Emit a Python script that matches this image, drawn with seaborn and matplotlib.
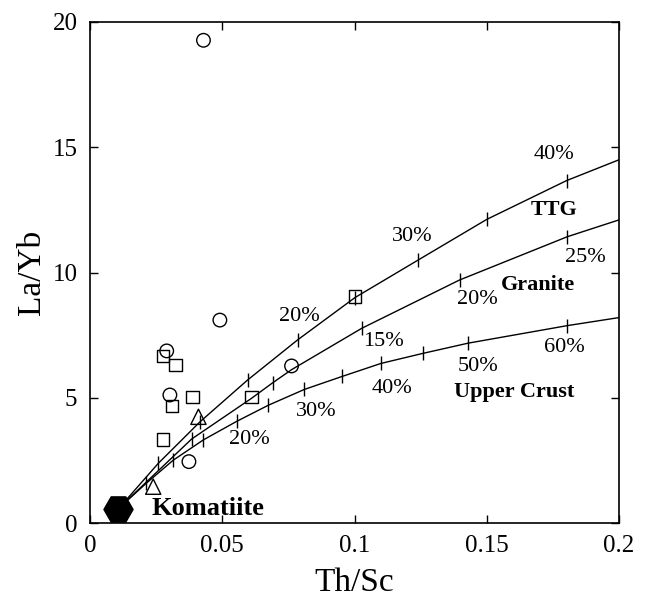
import numpy as np
import pandas as pd
import matplotlib
matplotlib.use("Agg")
import matplotlib.pyplot as plt
import seaborn as sns

# mixing curves komatiite -> end members
ttg_x = [0.011, 0.0258, 0.0416, 0.0596, 0.0785, 0.1002, 0.1241, 0.150, 0.1802, 0.200]
ttg_y = [0.60, 2.38, 4.04, 5.71, 7.31, 9.00, 10.50, 12.12, 13.67, 14.50]
gra_x = [0.011, 0.0384, 0.0611, 0.0691, 0.0762, 0.1027, 0.1397, 0.1805, 0.200]
gra_y = [0.60, 3.35, 4.98, 5.60, 6.12, 7.77, 9.70, 11.43, 12.10]
ucc_x = [0.011, 0.0212, 0.0315, 0.0429, 0.0555, 0.0674, 0.081, 0.0953, 0.110, 0.1258, 0.143, 0.1805, 0.200]
ucc_y = [0.60, 1.58, 2.51, 3.32, 4.06, 4.70, 5.33, 5.85, 6.37, 6.77, 7.18, 7.88, 8.20]

# tick marks on the curves (5 % steps)
ttg_tick_x = [0.0258, 0.0416, 0.0596, 0.0785, 0.1002, 0.1241, 0.150, 0.1802]
ttg_tick_y = [2.38, 4.04, 5.71, 7.31, 9.00, 10.50, 12.12, 13.67]
gra_tick_x = [0.0384, 0.0691, 0.1027, 0.1397, 0.1805]
gra_tick_y = [3.35, 5.60, 7.77, 9.70, 11.43]
ucc_tick_x = [0.0212, 0.0315, 0.0429, 0.0555, 0.0674, 0.081, 0.0953, 0.110, 0.1258, 0.143, 0.1805]
ucc_tick_y = [1.58, 2.51, 3.32, 4.06, 4.70, 5.33, 5.85, 6.37, 6.77, 7.18, 7.88]

# percentage labels
pct_text = ["20%", "30%", "40%", "15%", "20%", "25%", "20%", "30%", "40%", "50%", "60%"]
pct_x = [0.0790, 0.1220, 0.1754, 0.1110, 0.1466, 0.1871, 0.0603, 0.0854, 0.1141, 0.1466, 0.1793]
pct_y = [8.23, 11.45, 14.70, 7.24, 8.91, 10.59, 3.35, 4.45, 5.36, 6.25, 7.00]

names = ["TTG", "Granite", "Upper Crust"]
name_x = [0.1754, 0.1695, 0.1604]
name_y = [12.49, 9.52, 5.21]

# samples
circ_x = [0.0429, 0.0491, 0.0290, 0.0302, 0.0374, 0.0762]
circ_y = [19.27, 8.10, 6.87, 5.11, 2.45, 6.27]
sq_x = [0.0277, 0.0324, 0.0388, 0.0311, 0.0277, 0.0611, 0.1002]
sq_y = [6.67, 6.31, 5.02, 4.67, 3.34, 5.02, 9.04]
tri_x = [0.0410, 0.0239]
tri_y = [4.24, 1.45]

kom_x = [0.0105]
kom_y = [0.55]

xticks = [0, 0.05, 0.1, 0.15, 0.2]
xtick_labels = ["0", "0.05", "0.1", "0.15", "0.2"]
yticks = [0, 5, 10, 15, 20]

sns.set_style("ticks")
plt.rcParams['font.family'] = ['Liberation Serif', 'DejaVu Serif']
plt.rcParams['text.color'] = 'black'
plt.rcParams['axes.labelcolor'] = 'black'

fig = plt.figure(figsize=(6.53, 5.99), dpi=100)
ax = fig.add_axes([90/653, 1-523/599, 529/653, 501/599])

for cx, cy in [(ttg_x, ttg_y), (gra_x, gra_y), (ucc_x, ucc_y)]:
    sns.lineplot(x=cx, y=cy, sort=False, estimator=None, color="black", lw=1, ax=ax)

for tx, ty in [(ttg_tick_x, ttg_tick_y), (gra_tick_x, gra_tick_y), (ucc_tick_x, ucc_tick_y)]:
    sns.scatterplot(x=tx, y=ty, marker="|", s=90, color="black", linewidth=1, ax=ax, zorder=3)

sns.scatterplot(x=circ_x, y=circ_y, marker="o", s=95, color="black", facecolor="none",
                edgecolor="black", linewidth=1, ax=ax, zorder=4)
sns.scatterplot(x=sq_x, y=sq_y, marker="s", s=80, color="black", facecolor="none",
                edgecolor="black", linewidth=1, ax=ax, zorder=4)
sns.scatterplot(x=tri_x, y=tri_y, marker="^", s=120, color="black", facecolor="none",
                edgecolor="black", linewidth=1, ax=ax, zorder=4)
sns.scatterplot(x=kom_x, y=kom_y, marker="H", s=440, color="black", edgecolor="black",
                linewidth=1, ax=ax, zorder=5)

for t, px, py in zip(pct_text, pct_x, pct_y):
    ax.text(px, py, t, fontsize=16, ha="center", va="center", color="black")
for t, px, py in zip(names, name_x, name_y):
    ax.text(px, py, t, fontsize=16, fontweight="bold", ha="center", va="center", color="black")
ax.text(0.0446, 0.56, "Komatiite", fontsize=19, fontweight="bold", ha="center", va="center",
        color="black")

ax.set_xlim(0, 0.2)
ax.set_ylim(0, 20)
ax.set_xticks(xticks)
ax.set_xticklabels(xtick_labels)
ax.set_yticks(yticks)
ax.tick_params(direction="in", top=True, right=True, length=6, width=1,
               labelsize=18, colors="black", pad=9)
for s in ax.spines.values():
    s.set_linewidth(1.2)
    s.set_color("black")
ax.set_xlabel("Th/Sc", fontsize=24, labelpad=7, color="black")
ax.set_ylabel("La/Yb", fontsize=24, labelpad=4, color="black")

fig.savefig("out.png", dpi=100)
